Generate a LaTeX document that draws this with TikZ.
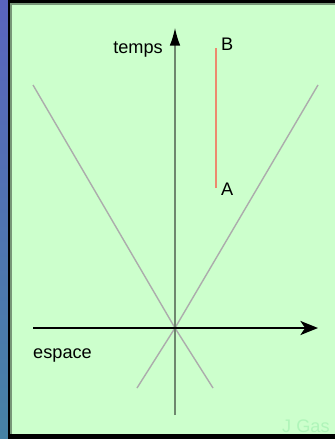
\documentclass[tikz,border=0pt]{standalone}
\usepackage{fontspec}
\setmainfont{Liberation Sans}
\definecolor{conegreen}{RGB}{204,255,204}
\definecolor{frameedge}{RGB}{120,150,120}
\definecolor{axisgrey}{RGB}{110,135,110}
\definecolor{conegrey}{RGB}{172,172,172}
\definecolor{worldred}{RGB}{236,138,110}
\definecolor{stripblue}{RGB}{90,100,190}
\definecolor{stripteal}{RGB}{70,130,165}
\definecolor{markgreen}{RGB}{175,245,185}
\usetikzlibrary{arrows.meta,positioning,calc}

\begin{document}
\begin{tikzpicture}[x=0.3mm,y=-0.3mm,
    lbl/.style={font=\fontsize{15.5}{18}\selectfont, inner sep=0pt},
    cone/.style={conegrey, line width=1.2pt}]
  \useasboundingbox (0,0) rectangle (335,439);
  % background strip and frame
  \shade[top color=stripblue, bottom color=stripteal] (0,0) rectangle (8,439);
  \fill[black] (8,0) rectangle (335,439);
  \fill[frameedge] (10,3) rectangle (335,434);
  \fill[conegreen] (12,5) rectangle (335,434);

  \coordinate (O) at (175,328);
  \coordinate (Ttop) at (175,28);
  \coordinate (Tbot) at (175,415);
  \coordinate (Xl) at (33,328);
  \coordinate (Xr) at (318,328);

  % light cone
  \draw[cone] (33,85) -- (O) -- (213,388);
  \draw[cone] (318,85) -- (O) -- (137,388);

  % axes
  \draw[axisgrey, line width=1pt, -{Latex[black,length=15pt,width=9pt]}] (Tbot) -- (Ttop);
  \draw[black, line width=1.8pt, -{Stealth[length=15pt,width=12pt,inset=4pt]}] (Xl) -- (Xr);

  % world line
  \coordinate (A) at (216,188);
  \coordinate (B) at (216,48);
  \draw[worldred, line width=1pt] (A) -- (B);

  \node[lbl, anchor=base east] (temps) at (163,53) {temps};
  \node[lbl, anchor=base west] (espace) at (33,358) {espace};
  \node[lbl, anchor=west] (labB) at (221,44) {B};
  \node[lbl, anchor=west] (labA) at (221,189) {A};
  \node[lbl, anchor=base west, text=markgreen] (mark) at (282,432) {J Gas};
\end{tikzpicture}
\end{document}
